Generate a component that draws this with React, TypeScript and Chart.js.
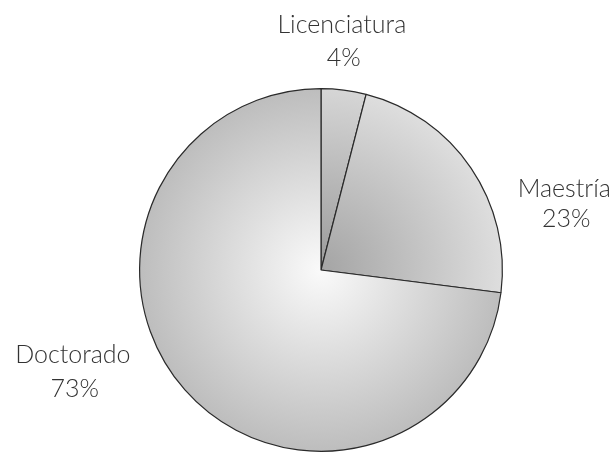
import React, { useEffect, useRef } from "react";
import { Chart, registerables } from "chart.js";

Chart.register(...registerables);

const categories = ["Licenciatura", "Maestría", "Doctorado"];
const values = [4, 23, 73];
const percentLabels = ["4%", "23%", "73%"];

// gradient stops per slice: [center colour, edge colour]
const sliceGradients: [string, string][] = [
  ["#9a9a9a", "#d6d6d6"],
  ["#a4a4a4", "#dedede"],
  ["#fafafa", "#bdbdbd"],
];

// label placement in units of radius, relative to pie centre (baselines of both lines)
const labelOffsets: { dx: number; dy1: number; dy2: number }[] = [
  { dx: 0.115, dy1: -1.308, dy2: -1.127 },
  { dx: 1.341, dy1: -0.401, dy2: -0.236 },
  { dx: -1.368, dy1: 0.511, dy2: 0.698 },
];

const labelPlugin = {
  id: "outerLabels",
  afterDatasetsDraw(chart: any) {
    const meta = chart.getDatasetMeta(0);
    const arc = meta.data[0];
    if (!arc) return;
    const { x, y, outerRadius } = arc.getProps(["x", "y", "outerRadius"], true);
    const ctx = chart.ctx;
    ctx.save();
    ctx.fillStyle = "#333333";
    ctx.font = "300 25px Lato, 'DejaVu Sans', sans-serif";
    ctx.textBaseline = "alphabetic";
    ctx.textAlign = "center";
    categories.forEach((c, i) => {
      const o = labelOffsets[i];
      const lx = x + o.dx * outerRadius;
      ctx.fillText(c, lx, y + o.dy1 * outerRadius);
      ctx.fillText(percentLabels[i], lx + 2, y + o.dy2 * outerRadius);
    });
    ctx.restore();
  },
};

export default function App() {
  const ref = useRef<HTMLCanvasElement>(null);
  useEffect(() => {
    if (!ref.current) return;
    const chart = new Chart(ref.current, {
      type: "pie",
      data: {
        labels: categories,
        datasets: [
          {
            data: values,
            backgroundColor: (ctx: any) => {
              const ch = ctx.chart;
              const area = ch.chartArea;
              if (!area) return "#cccccc";
              const cx = (area.left + area.right) / 2;
              const cy = (area.top + area.bottom) / 2;
              const r = Math.min(area.right - area.left, area.bottom - area.top) / 2;
              const g = ch.ctx.createRadialGradient(cx, cy, 0, cx, cy, r);
              const stops = sliceGradients[ctx.dataIndex] || ["#ccc", "#ccc"];
              g.addColorStop(0, stops[0]);
              g.addColorStop(1, stops[1]);
              return g;
            },
            borderColor: "#2a2a2a",
            borderWidth: 1.2,
            hoverOffset: 0,
          },
        ],
      },
      options: {
        animation: false,
        responsive: false,
        maintainAspectRatio: false,
        layout: { padding: { top: 88, bottom: 6, left: 27, right: 0 } },
        plugins: {
          legend: { display: false },
          tooltip: { enabled: false },
        },
      },
      plugins: [labelPlugin],
    });
    return () => chart.destroy();
  }, []);
  return (
    <div style={{ position: "fixed", left: 0, top: 0, width: 615, height: 458, background: "#ffffff" }}>
      <canvas ref={ref} width={615} height={458} style={{ width: 615, height: 458 }} />
    </div>
  );
}
